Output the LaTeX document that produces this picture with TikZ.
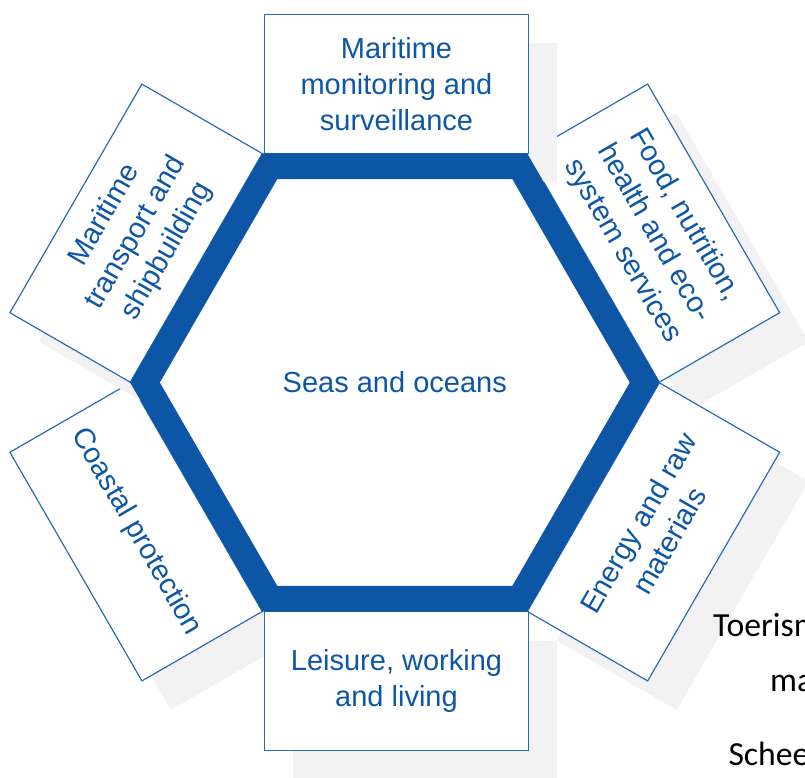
\documentclass[tikz,border=0pt]{standalone}
\usepackage{fontspec}
\setmainfont{Liberation Sans}
\newfontfamily\calib{Carlito}
\usetikzlibrary{calc}
\definecolor{hexblue}{RGB}{12,86,165}
\definecolor{boxline}{RGB}{40,108,184}
\definecolor{txtblue}{RGB}{14,86,166}
\definecolor{shadowgray}{RGB}{242,242,242}
\tikzset{
 box/.style={draw=boxline, line width=1.2pt, fill=white, minimum width=264pt, minimum height=139pt, inner sep=0pt, align=center, text=txtblue, font=\fontsize{29}{36}\selectfont},
 boxshadow/.style={fill=shadowgray, minimum width=264pt, minimum height=139pt, inner sep=0pt},
 side/.style={font=\calib\fontsize{33.7}{40}\selectfont, text=black, anchor=base west, inner sep=0pt},
 centre/.style={text=txtblue, font=\fontsize{29}{36}\selectfont, inner sep=0pt},
}
\begin{document}
\begin{tikzpicture}[x=1pt,y=1pt]
\useasboundingbox (0,-778) rectangle (805,0);
\clip (0,-778) rectangle (805,0);
\coordinate (C) at (394.8,-382.5);
% Food
\node[boxshadow, rotate=-60] (s1) at ($(C)+(30:298.7)+(29,-29)$) {};
\node[box, rotate=-60] (b1) at ($(C)+(30:298.7)$) {Food, nutrition,\\health and eco-\\system services};
% Coastal
\node[boxshadow, rotate=-60] (s2) at ($(C)+(-150:298.7)+(29,-29)$) {};
\node[box, rotate=-60] (b2) at ($(C)+(-150:298.7)$) {Coastal protection};
% Top
\node[boxshadow] (s3) at ($(C)+(90:298.7)+(30,-29)$) {};
\node[box] (b3) at ($(C)+(90:298.7)+(1.7,0)$) {Maritime\\monitoring and\\surveillance};
% Maritime transport
\node[boxshadow, rotate=60] (s4) at ($(C)+(150:298.7)+(29,-29)$) {};
\node[box, rotate=60] (b4) at ($(C)+(150:298.7)$) {Maritime\\transport and\\shipbuilding};
% Energy
\node[boxshadow, rotate=60] (s5) at ($(C)+(-30:298.7)+(29,-29)$) {};
\node[box, rotate=60] (b5) at ($(C)+(-30:298.7)$) {Energy and raw\\materials};
% Bottom
\node[boxshadow] (s6) at ($(C)+(-90:298.7)+(30,-29)$) {};
\node[box] (b6) at ($(C)+(-90:298.7)+(1.7,0)$) {Leisure, working\\and living};
% Hexagon
\foreach \i in {0,...,5} \coordinate (h\i) at ($(C)+(\i*60:249.8)$);
\draw[hexblue, line width=25.7pt, fill=white, line join=miter] (h0)--(h1)--(h2)--(h3)--(h4)--(h5)--cycle;
\node[centre] (sea) at (C) {Seas and oceans};
% cut-off text on the right
\node[side] (t1) at (713,-636.7) {Toerism};
\node[side] (t2) at (770,-691.7) {ma};
\node[side] (t3) at (728.3,-765) {Schee};
\end{tikzpicture}
\end{document}
